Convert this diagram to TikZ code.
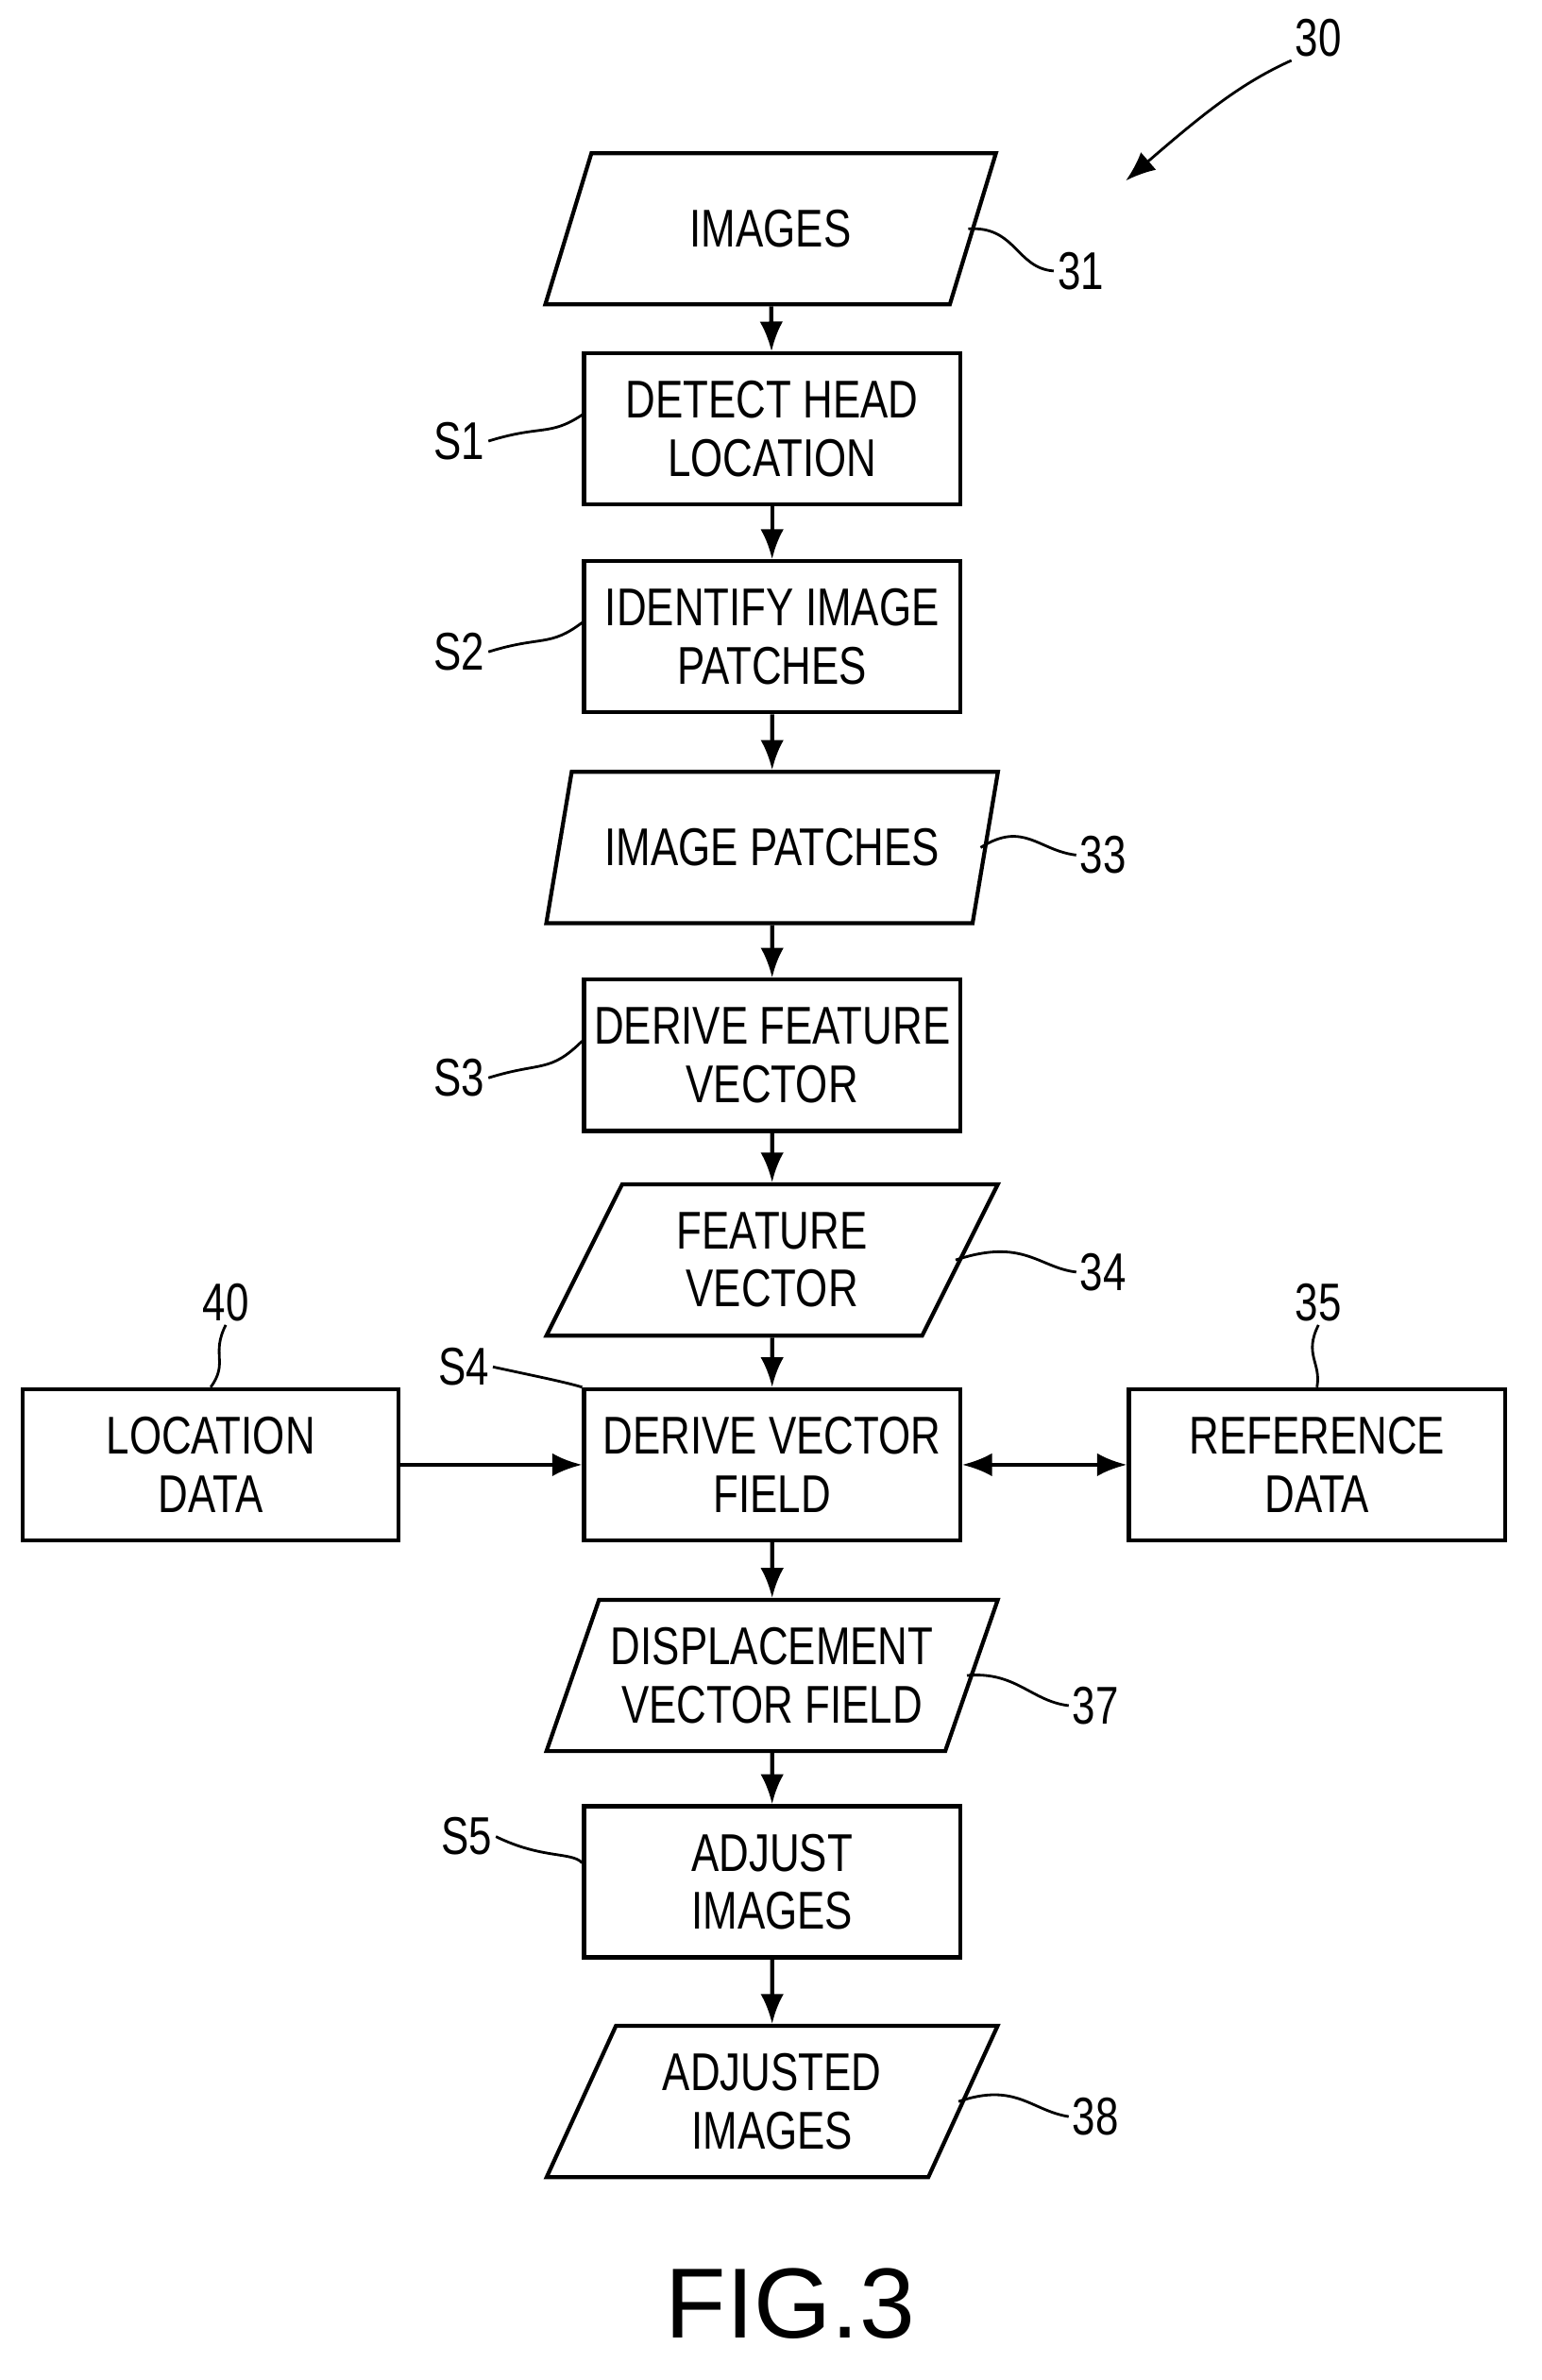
\documentclass[tikz,border=0pt]{standalone}
\usepackage{fontspec}
\setmainfont{Liberation Sans}[FakeStretch=0.78]
\newfontfamily\figfont{Liberation Sans}
\usetikzlibrary{arrows.meta, positioning, shapes.geometric}

\begin{document}
\begin{tikzpicture}[x=0.0159375cm, y=-0.0159375cm,
    box/.style={rectangle, draw, very thick, minimum width=3.98cm, minimum height=1.6cm, align=center, font=\fontsize{16}{17.5}\selectfont, inner sep=1pt},
    data/.style={trapezium, trapezium left angle=64, trapezium right angle=116, trapezium stretches=true, draw, very thick, minimum width=4.78cm, minimum height=1.6cm, align=center, font=\fontsize{16}{17.5}\selectfont, inner sep=1pt},
    lbl/.style={font=\fontsize{16}{17.5}\selectfont, inner sep=1pt},
    arrow/.style={-{Latex[length=9pt, width=7pt]}, very thick},
    lead/.style={thick}]
    \useasboundingbox (0,0) rectangle (1024,1581);

    % Flow
    \node (img) [data] at (512,152) {IMAGES};
    \node (s1) [box] at (513,285) {DETECT HEAD\\LOCATION};
    \node (s2) [box] at (513,423) {IDENTIFY IMAGE\\PATCHES};
    \node (patches) [data] at (513,563) {IMAGE PATCHES};
    \node (s3) [box] at (513,701) {DERIVE FEATURE\\VECTOR};
    \node (feat) [data] at (513,837) {FEATURE\\VECTOR};
    \node (s4) [box] at (513,973) {DERIVE VECTOR\\FIELD};
    \node (locdata) [box] at (140,973) {LOCATION\\DATA};
    \node (refdata) [box] at (875,973) {REFERENCE\\DATA};
    \node (disp) [data] at (513,1113) {DISPLACEMENT\\VECTOR FIELD};
    \node (s5) [box] at (513,1250) {ADJUST\\IMAGES};
    \node (adjimg) [data] at (513,1396) {ADJUSTED\\IMAGES};

    % Arrows
    \draw [arrow] (img) -- (s1);
    \draw [arrow] (s1) -- (s2);
    \draw [arrow] (s2) -- (patches);
    \draw [arrow] (patches) -- (s3);
    \draw [arrow] (s3) -- (feat);
    \draw [arrow] (feat) -- (s4);
    \draw [arrow] (locdata) -- (s4);
    \draw [arrow, {Latex[length=9pt, width=7pt]}-{Latex[length=9pt, width=7pt]}] (s4) -- (refdata);
    \draw [arrow] (s4) -- (disp);
    \draw [arrow] (disp) -- (s5);
    \draw [arrow] (s5) -- (adjimg);

    % Reference labels
    \node (l30) [lbl] at (876,25) {30};
    \node (l31) [lbl] at (718,180) {31};
    \node (l33) [lbl] at (733,568) {33};
    \node (l34) [lbl] at (733,845) {34};
    \node (l37) [lbl] at (728,1133) {37};
    \node (l38) [lbl] at (728,1406) {38};
    \node (l40) [lbl] at (150,865) {40};
    \node (l35) [lbl] at (876,865) {35};
    \node (ls1) [lbl] at (305,293) {S1};
    \node (ls2) [lbl] at (305,433) {S2};
    \node (ls3) [lbl] at (305,716) {S3};
    \node (ls4) [lbl] at (308,908) {S4};
    \node (ls5) [lbl] at (310,1220) {S5};
    \coordinate (tip30) at (748,120);

    \draw [arrow, thick] (l30.south west) .. controls (825,55) and (800,75) .. (tip30);
    \draw [lead] (l31.west) .. controls (675,178) and (675,150) .. ([xshift=-2pt]img.east);
    \draw [lead] (l33.west) .. controls (690,565) and (680,545) .. ([xshift=-2pt]patches.east);
    \draw [lead] (l34.west) .. controls (690,842) and (680,822) .. ([xshift=-2pt]feat.east);
    \draw [lead] (l37.west) .. controls (685,1130) and (675,1110) .. ([xshift=-2pt]disp.east);
    \draw [lead] (l38.west) .. controls (685,1402) and (675,1383) .. ([xshift=-2pt]adjimg.east);
    \draw [lead] (ls1.east) .. controls (360,282) and (365,290) .. ([yshift=0.15cm]s1.west);
    \draw [lead] (ls2.east) .. controls (360,422) and (365,430) .. ([yshift=0.15cm]s2.west);
    \draw [lead] (ls3.east) .. controls (360,705) and (365,713) .. ([yshift=0.15cm]s3.west);
    \draw [lead] (ls4.east) .. controls (360,915) and (375,918) .. (s4.north west);
    \draw [lead] (ls5.east) .. controls (360,1235) and (380,1230) .. ([yshift=0.2cm]s5.west);
    \draw [lead] (l40.south) .. controls (140,900) and (152,905) .. (locdata.north);
    \draw [lead] (l35.south) .. controls (866,900) and (878,905) .. (refdata.north);

    \node (fig) [font=\figfont\fontsize{30}{32}\selectfont] at (525,1530) {FIG.3};
\end{tikzpicture}
\end{document}
